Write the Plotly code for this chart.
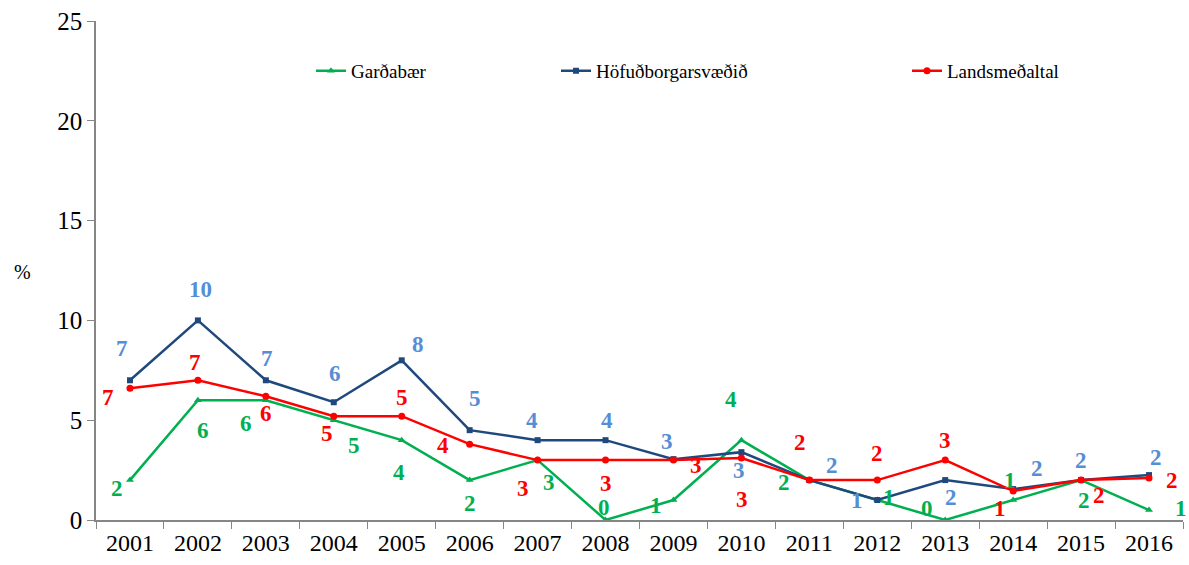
import plotly.graph_objects as go

years = [str(y) for y in range(2001, 2017)]

gardabaer = [2.0, 6.0, 6.0, 5.0, 4.0, 2.0, 3.0, 0.0, 1.0, 4.0, 2.0, 1.0, 0.0, 1.0, 2.0, 0.5]
hofudborg = [7.0, 10.0, 7.0, 5.9, 8.0, 4.5, 4.0, 4.0, 3.05, 3.4, 2.0, 1.0, 2.0, 1.55, 2.0, 2.25]
landsmedaltal = [6.6, 7.0, 6.2, 5.2, 5.2, 3.8, 3.0, 3.0, 3.0, 3.1, 2.0, 2.0, 3.0, 1.45, 2.0, 2.1]

# data labels as shown (rounded to whole numbers)
gardabaer_lbl = ["2", "6", "6", "5", "4", "2", "3", "0", "1", "4", "2", "1", "0", "1", "2", "1"]
hofudborg_lbl = ["7", "10", "7", "6", "8", "5", "4", "4", "3", "3", "2", "1", "2", "2", "2", "2"]
landsmedaltal_lbl = ["7", "7", "6", "5", "5", "4", "3", "3", "3", "3", "2", "2", "3", "1", "2", "2"]

# label offsets in px (x, y up)
gardabaer_off = [(-13, -8), (5, -30), (-20, -23), (20, -25), (-3, -32), (0, -23), (11, -22), (-2, 13),
                 (-17, -5), (-10, 41), (-25, -2), (12, 3), (-18, 12), (-3, 20), (3, -20), (32, 2)]
hofudborg_off = [(-8, 32), (3, 31), (1, 22), (1, 29), (16, 16), (5, 32), (-6, 20), (1, 20),
                 (-6, 18), (-2, -18), (23, 15), (-20, 0), (6, -17), (24, 21), (0, 20), (7, 18)]
landsmedaltal_off = [(-22, -9), (-3, 18), (0, -17), (-7, -17), (0, 19), (-27, -1), (-15, -28), (0, -23),
                     (23, -5), (1, -41), (-9, 38), (0, 27), (0, 20), (-13, -17), (18, -15), (23, -2)]

FONT = "Liberation Serif, Times New Roman, serif"
GREEN = "#00B050"
NAVY = "#1F497D"
LBLUE = "#558ED5"
RED = "#FF0000"

fig = go.Figure()
fig.add_trace(go.Scatter(x=years, y=gardabaer, name="Garðabær", mode="lines+markers",
                         line=dict(color=GREEN, width=2.5),
                         marker=dict(symbol="triangle-up", size=7, color=GREEN),
                         legend="legend"))
fig.add_trace(go.Scatter(x=years, y=hofudborg, name="Höfuðborgarsvæðið", mode="lines+markers",
                         line=dict(color=NAVY, width=2.5),
                         marker=dict(symbol="square", size=6, color=NAVY),
                         legend="legend2"))
fig.add_trace(go.Scatter(x=years, y=landsmedaltal, name="Landsmeðaltal", mode="lines+markers",
                         line=dict(color=RED, width=2.5),
                         marker=dict(symbol="circle", size=7, color=RED),
                         legend="legend3"))

annotations = []
for vals, lbls, offs, col in [(gardabaer, gardabaer_lbl, gardabaer_off, GREEN),
                              (hofudborg, hofudborg_lbl, hofudborg_off, LBLUE),
                              (landsmedaltal, landsmedaltal_lbl, landsmedaltal_off, RED)]:
    # category axis: annotations take the category index
    for i, (v, t, (dx, dy)) in enumerate(zip(vals, lbls, offs)):
        annotations.append(dict(x=i, y=v, xref="x", yref="y", text="<b>%s</b>" % t,
                                showarrow=False, xshift=dx, yshift=dy,
                                font=dict(family=FONT, size=23, color=col)))

annotations.append(dict(x=(22 - 96) / 1087, y=(520 - 272) / 499, xref="paper", yref="paper",
                        text="%", showarrow=False, xanchor="center", yanchor="middle",
                        font=dict(family=FONT, size=20, color="black")))

leg = dict(orientation="h", xanchor="left", yanchor="middle", y=0.9, bgcolor="rgba(0,0,0,0)",
           font=dict(family=FONT, size=19, color="black"))

fig.update_layout(
    width=1189, height=565,
    margin=dict(l=96, r=6, t=21, b=45),
    plot_bgcolor="white", paper_bgcolor="white",
    font=dict(family=FONT, size=24, color="black"),
    showlegend=True,
    annotations=annotations,
    legend=dict(leg, x=(311 - 96) / 1087),
    legend2=dict(leg, x=(556 - 96) / 1087),
    legend3=dict(leg, x=(907 - 96) / 1087),
    xaxis=dict(type="category", range=[-0.5, 15.5], showline=True, linecolor="#868686",
               linewidth=1.5, ticks="outside", tickson="boundaries", ticklen=7,
               tickcolor="#868686", showgrid=False, zeroline=False,
               tickfont=dict(family=FONT, size=24)),
    yaxis=dict(range=[0, 25], dtick=5, showline=True, linecolor="#868686", linewidth=1.5,
               ticks="outside", ticklen=7, tickcolor="#868686", showgrid=False,
               zeroline=False, tickfont=dict(family=FONT, size=25)),
)

fig.write_html("out.html", config={"displayModeBar": False},
               post_script="document.body.style.margin='0';")
